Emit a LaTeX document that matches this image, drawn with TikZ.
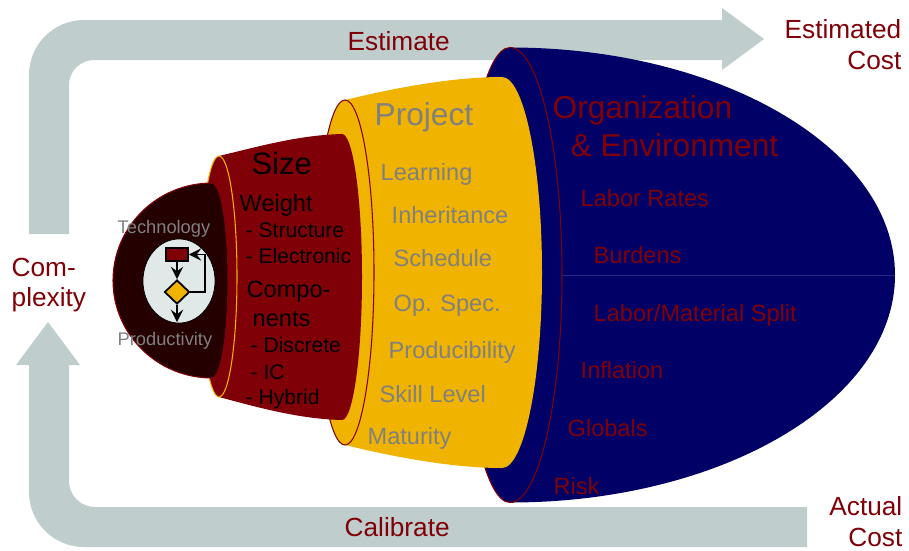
\documentclass[tikz,border=0pt]{standalone}
\usepackage{fontspec}
\setmainfont{Liberation Sans}
\usetikzlibrary{shapes.geometric}

\definecolor{bandgrey}{HTML}{BFCDCD}
\definecolor{maroon}{HTML}{800008}
\definecolor{gold}{HTML}{EFB300}
\definecolor{deepblue}{HTML}{000066}
\definecolor{seam}{HTML}{2A2A80}
\definecolor{coredark}{HTML}{240000}
\definecolor{pale}{HTML}{E0E8E8}
\definecolor{txtgrey}{HTML}{808080}

\begin{document}
\begin{tikzpicture}[
x=0.01cm, y=0.01cm,
>=stealth,
lab/.style={anchor=base west, inner sep=0pt},
big/.style={lab, font=\fontsize{9}{9}\selectfont},
mid/.style={lab, font=\fontsize{6.7}{6.7}\selectfont},
small/.style={lab, font=\fontsize{6}{6}\selectfont},
tiny/.style={lab, text=txtgrey, font=\fontsize{5.2}{5.2}\selectfont},
side/.style={inner sep=0pt, text=maroon, font=\fontsize{7.46}{8.8}\selectfont},
flow/.style={draw=black, line width=0.5pt, inner sep=0pt},
link/.style={->, line width=0.55pt}
]
\useasboundingbox (0,0) rectangle (909,550);

% feedback bands
\fill[bandgrey] (29,316) -- (29,475) arc[start angle=180, end angle=90, radius=55] -- (722,530) -- (722,542) -- (764,511) -- (722,480) -- (722,490) -- (94,490) arc[start angle=90, end angle=180, radius=25] -- (69,316) -- cycle;
\fill[bandgrey] (48,228) -- (80,185) -- (69,185) -- (69,69) arc[start angle=180, end angle=270, radius=26] -- (807,43) -- (807,3) -- (84,3) arc[start angle=270, end angle=180, radius=55] -- (29,185) -- (16,185) -- cycle;

% organization shell
\fill[deepblue] (510,502.5) arc[start angle=90, end angle=-90, x radius=385, y radius=227.5] arc[start angle=-90, end angle=-270, x radius=47, y radius=227.5] -- cycle;
\draw[maroon, line width=0.3pt] (510,502.5) arc[start angle=90, end angle=-90, x radius=52, y radius=227.5] arc[start angle=-90, end angle=-270, x radius=47, y radius=227.5] -- cycle;
\draw[seam, line width=0.2pt] (562,275) -- (895,275);

% project shell
\fill[gold] (345,450) .. controls (390,461) and (450,473) .. (502,473) arc[start angle=90, end angle=-90, x radius=40, y radius=195.5] .. controls (450,82) and (390,94) .. (345,105) arc[start angle=-90, end angle=-270, x radius=29, y radius=172.5] -- cycle;
\draw[maroon, line width=0.3pt] (345,277.5) ellipse [x radius=29, y radius=172.5];

% size shell
\fill[maroon] (219,394) .. controls (260,404) and (300,415) .. (342,416) arc[start angle=90, end angle=-90, x radius=20, y radius=143] .. controls (300,131) and (260,142) .. (219,153) arc[start angle=-90, end angle=-270, x radius=18, y radius=120.5] -- cycle;
\draw[gold, line width=0.3pt] (219,273.5) ellipse [x radius=18, y radius=120.5];

% core
\filldraw[fill=coredark, draw=maroon, line width=0.3pt] (212,367) arc[start angle=90, end angle=270, x radius=99, y radius=97.5] arc[start angle=-90, end angle=90, x radius=16, y radius=97.5] -- cycle;

% flow chart in the core
\node[ellipse, fill=pale, draw=black, line width=0.2pt, inner sep=0pt, minimum width=0.72cm, minimum height=0.84cm] (flowbg) at (179,269) {};
\node[rectangle, flow, fill=maroon, minimum width=0.22cm, minimum height=0.13cm] (act) at (177,295.5) {};
\node[diamond, flow, fill=gold, minimum width=0.25cm, minimum height=0.24cm] (dec) at (177,258) {};
\coordinate (exit) at (177,228);

\draw[link] (act) -- (dec);
\draw[link] (dec) -- (exit);
\draw[link] (dec.east) -- ++(15,0) |- (act.east);

% band labels
\node[lab, text=maroon, font=\fontsize{7.46}{7.46}\selectfont] (est) at (347,500) {Estimate};
\node[lab, text=maroon, font=\fontsize{7.46}{7.46}\selectfont] (cal) at (344,14) {Calibrate};
\node[side, align=right, anchor=north east] (estcost) at (902,531) {Estimated\\Cost};
\node[side, align=right, anchor=north east] (actcost) at (903,54) {Actual\\Cost};
\node[side, align=left, anchor=north west] (cplx) at (11,293) {Com-\\plexity};

% organization
\node[big, text=maroon] (org) at (552,432) {Organization};
\node[big, text=maroon] (env) at (570,394) {\& Environment};
\node[mid, text=maroon] (rates) at (580,344) {Labor Rates};
\node[mid, text=maroon] (burd) at (593,287) {Burdens};
\node[mid, text=maroon] (split) at (593,229) {Labor/Material Split};
\node[mid, text=maroon] (infl) at (580,172) {Inflation};
\node[mid, text=maroon] (glob) at (567,114) {Globals};
\node[mid, text=maroon] (risk) at (553,56) {Risk};

% project
\node[big, text=txtgrey] (proj) at (374,425) {Project};
\node[mid, text=txtgrey] (learn) at (380,370) {Learning};
\node[mid, text=txtgrey] (inher) at (391,327) {Inheritance};
\node[mid, text=txtgrey] (sched) at (393,284) {Schedule};
\node[mid, text=txtgrey] (spec) at (393,239) {Op. Spec.};
\node[mid, text=txtgrey] (prod) at (388,192) {Producibility};
\node[mid, text=txtgrey] (skill) at (379,148) {Skill Level};
\node[mid, text=txtgrey] (matur) at (367,106) {Maturity};

% size
\node[big, font=\fontsize{8.8}{8.8}\selectfont] (size) at (251,376) {Size};
\node[mid] (weight) at (239,339) {Weight};
\node[small] (struct) at (245,313) {- Structure};
\node[small] (elec) at (245,287) {- Electronic};
\node[mid] (comp) at (246,253) {Compo-};
\node[mid] (nents) at (252,224) {nents};
\node[small] (discr) at (250,198) {- Discrete};
\node[small] (ic) at (250,171) {- IC};
\node[small] (hyb) at (245,146) {- Hybrid};

% core labels
\node[tiny] (tech) at (117,317) {Technology};
\node[tiny] (prdy) at (117,205) {Productivity};

\end{tikzpicture}
\end{document}
